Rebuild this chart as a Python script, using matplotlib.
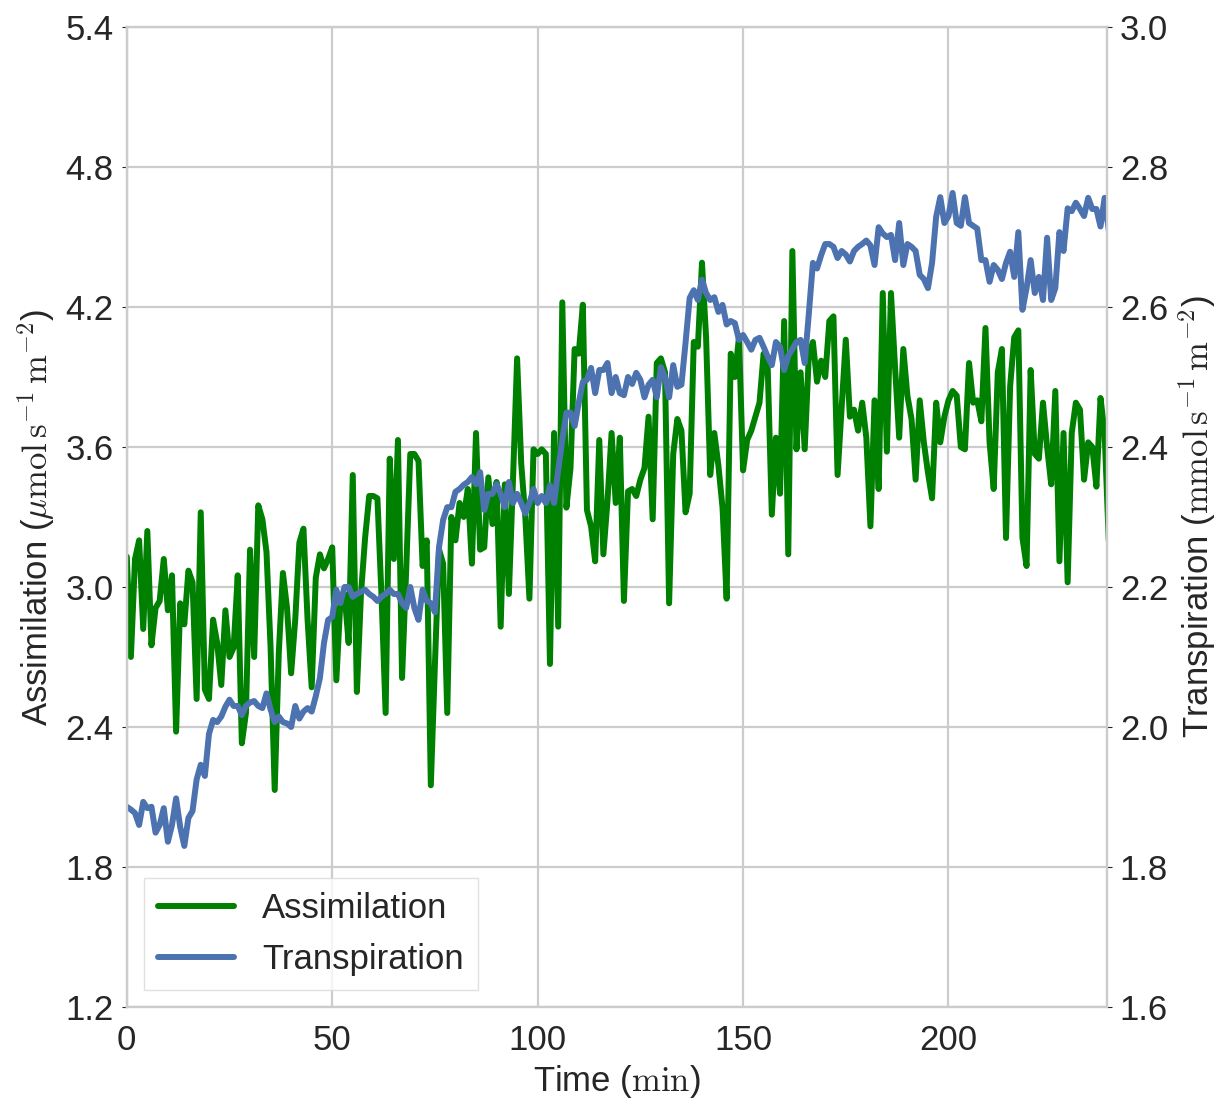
import numpy as np
import matplotlib
matplotlib.use("Agg")
import matplotlib.pyplot as plt
import seaborn as sns

sns.set_style("whitegrid")
plt.rcParams['font.family'] = ['Arial', 'Liberation Sans', 'DejaVu Sans']
plt.rcParams['mathtext.fontset'] = 'cm'

# time in minutes
time = np.arange(240)

# assimilation (umol s-1 m-2), left axis
assimilation = [
    3.13, 2.70, 3.12, 3.20, 2.82, 3.24, 2.75, 2.91, 2.94, 3.12,
    2.90, 3.05, 2.38, 2.93, 2.84, 3.07, 3.02, 2.52, 3.32, 2.56,
    2.52, 2.86, 2.76, 2.58, 2.90, 2.70, 2.74, 3.05, 2.33, 2.46,
    3.16, 2.70, 3.35, 3.29, 3.15, 2.74, 2.13, 2.72, 3.06, 2.91,
    2.63, 2.86, 3.19, 3.25, 2.86, 2.57, 3.04, 3.14, 3.08, 3.12,
    3.17, 2.60, 2.94, 2.97, 2.76, 3.48, 2.55, 2.97, 3.21, 3.39,
    3.39, 3.38, 2.96, 2.46, 3.55, 3.12, 3.63, 2.61, 3.07, 3.57,
    3.57, 3.54, 3.09, 3.20, 2.15, 2.67, 3.16, 3.10, 2.46, 3.30,
    3.20, 3.36, 3.30, 3.42, 3.10, 3.66, 3.16, 3.17, 3.47, 3.27,
    3.45, 2.83, 3.44, 2.97, 3.46, 3.98, 3.53, 3.30, 2.95, 3.59,
    3.57, 3.59, 3.57, 2.67, 3.66, 2.83, 4.22, 3.34, 3.51, 4.02,
    4.00, 4.21, 3.33, 3.26, 3.11, 3.63, 3.14, 3.37, 3.66, 3.36,
    3.64, 2.94, 3.41, 3.42, 3.39, 3.46, 3.51, 3.73, 3.29, 3.96,
    3.98, 3.92, 2.93, 3.57, 3.72, 3.67, 3.32, 3.40, 4.05, 4.03,
    4.39, 4.07, 3.48, 3.66, 3.52, 3.34, 2.95, 4.00, 3.90, 4.07,
    3.50, 3.63, 3.67, 3.73, 3.79, 4.00, 3.94, 3.31, 3.64, 3.40,
    4.14, 3.14, 4.44, 3.59, 3.92, 3.59, 3.99, 4.05, 3.88, 3.97,
    3.90, 4.14, 4.16, 3.48, 3.77, 4.06, 3.73, 3.76, 3.67, 3.79,
    3.64, 3.26, 3.80, 3.42, 4.26, 3.58, 4.26, 3.94, 3.64, 4.02,
    3.82, 3.72, 3.46, 3.80, 3.62, 3.49, 3.38, 3.79, 3.62, 3.73,
    3.80, 3.84, 3.82, 3.60, 3.59, 3.96, 3.79, 3.80, 3.71, 4.11,
    3.62, 3.42, 3.92, 4.02, 3.21, 3.86, 4.07, 4.10, 3.21, 3.09,
    3.93, 3.57, 3.55, 3.79, 3.60, 3.44, 3.84, 3.11, 3.66, 3.02,
    3.66, 3.79, 3.76, 3.46, 3.62, 3.60, 3.43, 3.81, 3.66, 3.20,
]

# transpiration (mmol s-1 m-2), right axis
transpiration = [
    1.886, 1.882, 1.877, 1.860, 1.893, 1.884, 1.886, 1.849, 1.860, 1.884,
    1.836, 1.860, 1.898, 1.857, 1.830, 1.870, 1.880, 1.925, 1.946, 1.930,
    1.990, 2.010, 2.007, 2.015, 2.029, 2.039, 2.030, 2.030, 2.017, 2.030,
    2.035, 2.037, 2.030, 2.027, 2.048, 2.025, 2.007, 2.015, 2.007, 2.005,
    2.000, 2.030, 2.012, 2.022, 2.027, 2.022, 2.044, 2.070, 2.120, 2.153,
    2.157, 2.196, 2.177, 2.200, 2.200, 2.186, 2.190, 2.193, 2.196, 2.190,
    2.186, 2.180, 2.186, 2.190, 2.196, 2.190, 2.190, 2.177, 2.170, 2.200,
    2.170, 2.153, 2.196, 2.180, 2.177, 2.164, 2.257, 2.296, 2.314, 2.314,
    2.336, 2.340, 2.346, 2.350, 2.357, 2.347, 2.364, 2.310, 2.333, 2.333,
    2.347, 2.333, 2.314, 2.350, 2.320, 2.333, 2.320, 2.305, 2.320, 2.340,
    2.320, 2.330, 2.320, 2.345, 2.320, 2.367, 2.410, 2.449, 2.449, 2.430,
    2.463, 2.493, 2.496, 2.513, 2.477, 2.510, 2.510, 2.520, 2.477, 2.500,
    2.477, 2.474, 2.500, 2.490, 2.506, 2.496, 2.471, 2.489, 2.496, 2.471,
    2.514, 2.500, 2.471, 2.517, 2.486, 2.489, 2.549, 2.613, 2.624, 2.610,
    2.639, 2.620, 2.610, 2.614, 2.593, 2.603, 2.575, 2.580, 2.577, 2.553,
    2.560, 2.550, 2.539, 2.553, 2.556, 2.543, 2.529, 2.517, 2.550, 2.543,
    2.510, 2.530, 2.540, 2.550, 2.553, 2.520, 2.590, 2.663, 2.655, 2.674,
    2.690, 2.690, 2.686, 2.670, 2.680, 2.675, 2.665, 2.680, 2.686, 2.690,
    2.695, 2.688, 2.660, 2.714, 2.705, 2.700, 2.703, 2.667, 2.720, 2.660,
    2.690, 2.686, 2.680, 2.646, 2.640, 2.627, 2.663, 2.729, 2.757, 2.720,
    2.730, 2.763, 2.720, 2.716, 2.757, 2.720, 2.716, 2.712, 2.667, 2.667,
    2.636, 2.660, 2.653, 2.640, 2.663, 2.679, 2.643, 2.707, 2.596, 2.627,
    2.667, 2.620, 2.643, 2.610, 2.699, 2.610, 2.627, 2.707, 2.680, 2.741,
    2.737, 2.749, 2.740, 2.730, 2.756, 2.740, 2.740, 2.715, 2.756, 2.710,
]

fs = 25

fig = plt.figure(figsize=(12.31, 11.08), dpi=100)
ax = fig.add_axes([0.103, 0.0912, 0.796, 0.8844])
ax2 = ax.twinx()

l1, = ax.plot(time, assimilation, color='green', lw=4.3, label='Assimilation')
l2, = ax2.plot(time, transpiration, color='#4C72B0', lw=4.3, label='Transpiration')

ax.set_xlim(0, 238.5)
ax.set_ylim(1.2, 5.4)
ax.set_yticks(np.arange(1.2, 5.41, 0.6))
ax2.set_ylim(1.6, 3.0)
ax2.set_yticks(np.arange(1.6, 3.01, 0.2))
ax2.grid(False)
ax.set_xticks([0, 50, 100, 150, 200])
ax.grid(True, color='.8', lw=1.6)

ax.tick_params(axis='x', labelsize=fs, colors='.15', pad=9)
ax.tick_params(axis='y', labelsize=fs, colors='.15', pad=6)
ax2.tick_params(axis='y', labelsize=fs, colors='.15', pad=6)
ax.set_xlabel(r'Time ($\mathrm{min}$)', fontsize=fs, color='.15', labelpad=4)
ax.set_ylabel(r'Assimilation ($\mu\mathrm{mol\,s^{-1}\,m^{-2}}$)', fontsize=fs, color='.15', labelpad=6)
ax2.set_ylabel(r'Transpiration ($\mathrm{mmol\,s^{-1}\,m^{-2}}$)', fontsize=fs, color='.15', labelpad=6)

for sp in list(ax.spines.values()) + list(ax2.spines.values()):
    sp.set_color('.8')
    sp.set_linewidth(1.6)

leg = ax.legend(handles=[l1, l2], loc='lower left', fontsize=fs, frameon=True,
                fancybox=False, borderaxespad=0.5, handlelength=2.2)
leg.get_frame().set_edgecolor('.85')

fig.savefig('out.png', dpi=100)
